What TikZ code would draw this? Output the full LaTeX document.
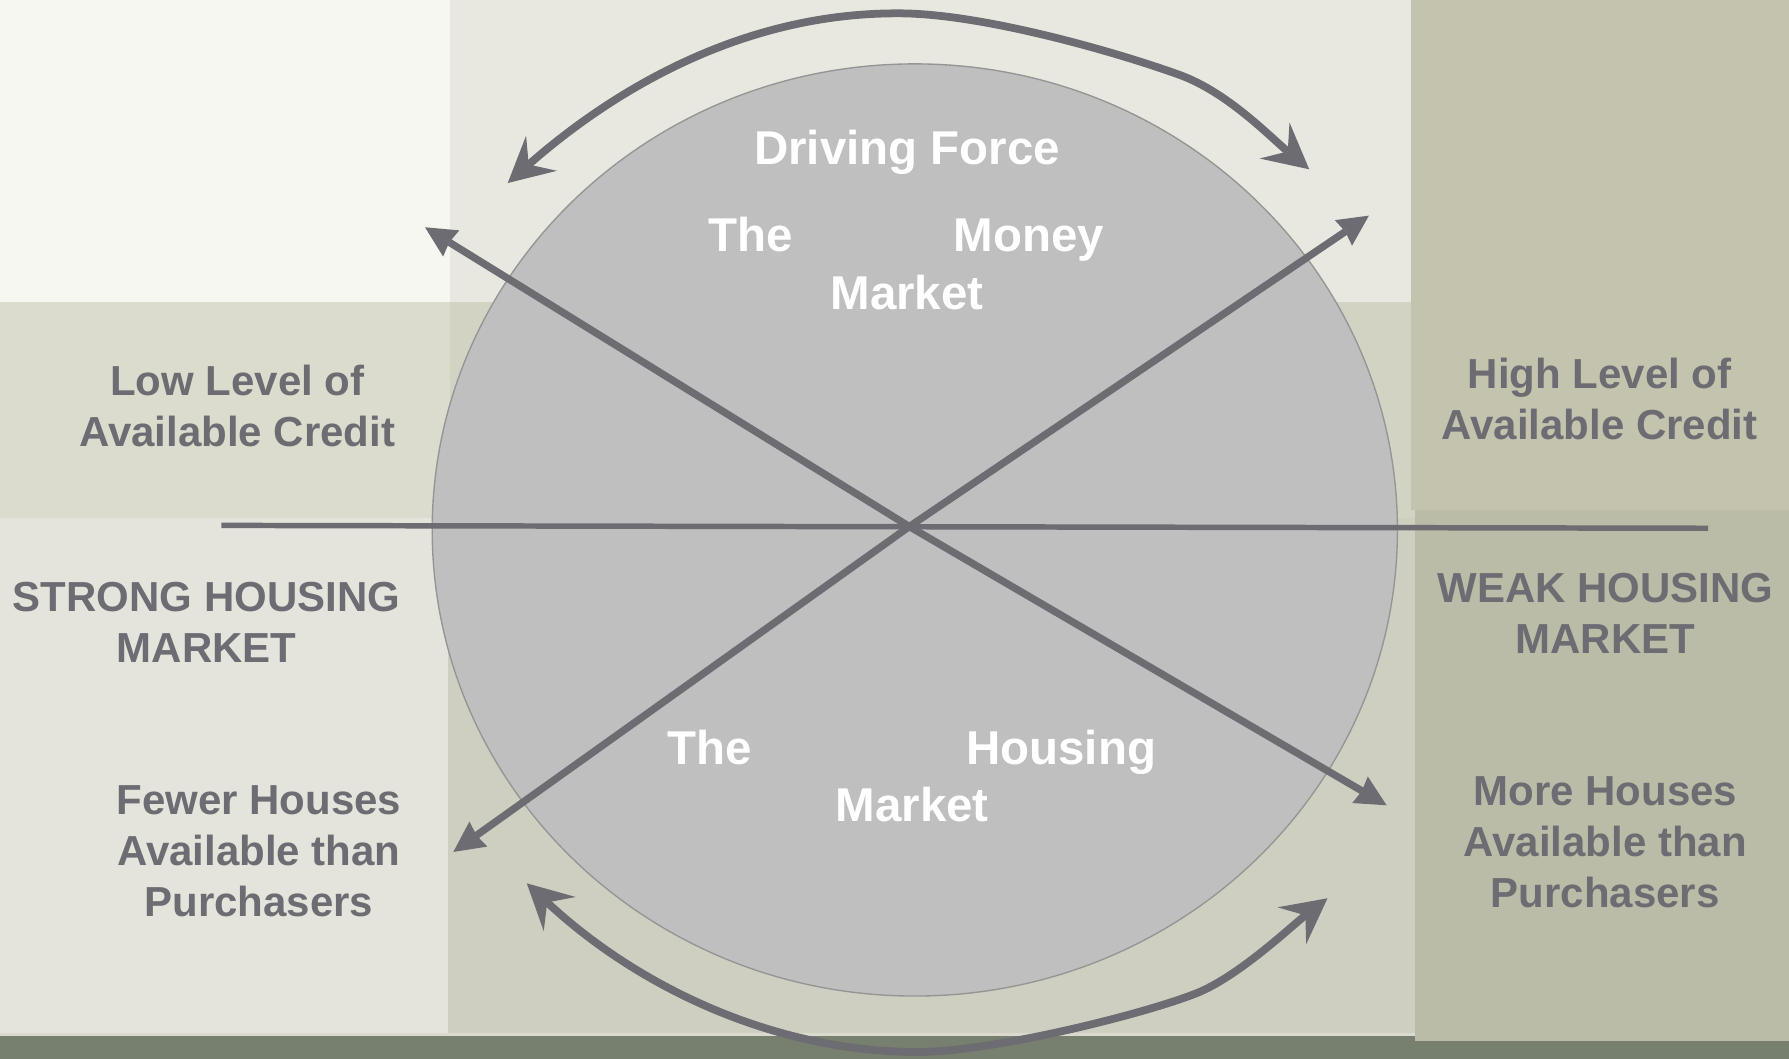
\documentclass[tikz,border=0pt]{standalone}
\usepackage{fontspec}
\setmainfont{Liberation Sans}
\usetikzlibrary{arrows.meta,shapes.geometric}
\definecolor{bgTL}{HTML}{F6F7F1}
\definecolor{bgTM}{HTML}{E8E8E0}
\definecolor{bgTR}{HTML}{C4C3AE}
\definecolor{bgML}{HTML}{DBDCCE}
\definecolor{bgMM}{HTML}{D3D3C4}
\definecolor{bgBL}{HTML}{E4E4DC}
\definecolor{bgBM}{HTML}{CFCFC1}
\definecolor{bgBR}{HTML}{BBBCA7}
\definecolor{bgStrip}{HTML}{777F6F}
\definecolor{bgEdge}{HTML}{DADBCE}
\definecolor{arrowc}{HTML}{6D6C72}
\definecolor{circfill}{HTML}{BFBFBF}
\definecolor{circline}{HTML}{959595}
\newcommand\whitefont{\fontsize{41.6}{50}\selectfont\bfseries}
\newcommand\grayfont{\fontsize{36.8}{44.8}\selectfont\bfseries}
\newcommand\blk[1]{\begin{tabular}[t]{@{}c@{}}#1\end{tabular}}
\begin{document}
\begin{tikzpicture}[x=1pt,y=-1pt,
  graytext/.style={text=arrowc, font=\grayfont, inner sep=0pt, anchor=base},
  whitetext/.style={text=white, font=\whitefont, inner sep=0pt, anchor=base},
  curvearrow/.style={line width=6.8pt, draw=arrowc,
    arrows={Stealth[length=39.5pt,width=41pt,inset=15pt,line width=0pt]-Stealth[length=39.5pt,width=41pt,inset=15pt,line width=0pt]}},
  diagarrow/.style={line width=6.4pt, draw=arrowc,
    arrows={-Stealth[length=27pt,width=27pt,inset=2pt,line width=0pt]}},
  hline/.style={line width=4.8pt, draw=arrowc},
  bigcircle/.style={ellipse, draw=circline, fill=circfill, line width=1.2pt,
    minimum width=846pt, minimum height=817pt, inner sep=0pt}
]
\useasboundingbox (0,0) rectangle (1568,928);
% background panels
\fill[bgMM] (0,0) rectangle (1568,928);
\fill[bgTL] (0,0) rectangle (394,265);
\fill[bgTM] (394,0) rectangle (1237,265);
\fill[bgML] (0,265) rectangle (394,454);
\fill[bgMM] (394,265) rectangle (1240,454);
\fill[bgTR] (1237,0) rectangle (1568,447);
\fill[bgBL] (0,454) rectangle (392.6,905);
\fill[bgBM] (392.6,454) rectangle (1240,905);
\fill[bgBR] (1240,447) rectangle (1568,912);
\fill[bgEdge] (0,905) rectangle (1240,908);
\fill[bgStrip] (0,908) rectangle (1240,928);
\fill[bgStrip] (1240,912) rectangle (1568,928);
% circle
\node[bigcircle] (circ) at (801.8,464.5) {};
% coordinates
\coordinate (ctr) at (797,461.5);
\coordinate (ul) at (372.5,199.2);
\coordinate (ur) at (1199.8,189);
\coordinate (ll) at (397.3,746.7);
\coordinate (lr) at (1215.3,705.8);
\coordinate (hl) at (194,460.5);
\coordinate (hr) at (1497,463);
\coordinate (c1a) at (445,160.4);
\coordinate (c1b) at (788,11.7);
\coordinate (c1c) at (1034,65.7);
\coordinate (c1d) at (1147.5,148.4);
\coordinate (c2a) at (461.7,774.2);
\coordinate (c2b) at (804,922);
\coordinate (c2c) at (1048.5,870.6);
\coordinate (c2d) at (1163.5,787.3);
% lines
\draw[hline] (hl) -- (hr);
\draw[diagarrow] (ctr) -- (ul);
\draw[diagarrow] (ctr) -- (lr);
\draw[diagarrow] (ctr) -- (ur);
\draw[diagarrow] (ctr) -- (ll);
% curved double arrows
\draw[curvearrow] (c1a) .. controls (525,90) and (640,11) .. (c1b)
  .. controls (860,11.7) and (977.6,45.3) .. (c1c)
  .. controls (1076,81) and (1112.8,119.6) .. (c1d);
\draw[curvearrow] (c2a) .. controls (560,866) and (680,922) .. (c2b)
  .. controls (870,922) and (1002,889) .. (c2c)
  .. controls (1085.7,855.8) and (1131.9,811.7) .. (c2d);
% white texts in circle
\node[whitetext] (tdrive) at (795,144.6) {Driving Force};
\node[whitetext] (tthe1) at (658,220.7) {The};
\node[whitetext] (tmoney) at (902,220.7) {Money};
\node[whitetext] (tmarket1) at (795,271.7) {Market};
\node[whitetext] (tthe2) at (622,669.8) {The};
\node[whitetext] (thousing) at (930,669.8) {Housing};
\node[whitetext] (tmarket2) at (799.5,720) {Market};
% gray side texts
\node[graytext] (tlow) at (208,346.8) {\blk{Low Level of\\Available Credit}};
\node[graytext] (thigh) at (1402,340.6) {\blk{High Level of\\Available Credit}};
\node[graytext] (tstrong) at (181,535.9) {\blk{STRONG HOUSING\\MARKET}};
\node[graytext] (tweak) at (1407,528.4) {\blk{WEAK HOUSING\\MARKET}};
\node[graytext] (tfewer) at (227,713.7) {\blk{Fewer Houses\\Available than\\Purchasers}};
\node[graytext] (tmore) at (1407,705.9) {\blk{More Houses\\Available than\\Purchasers}};
\end{tikzpicture}
\end{document}
